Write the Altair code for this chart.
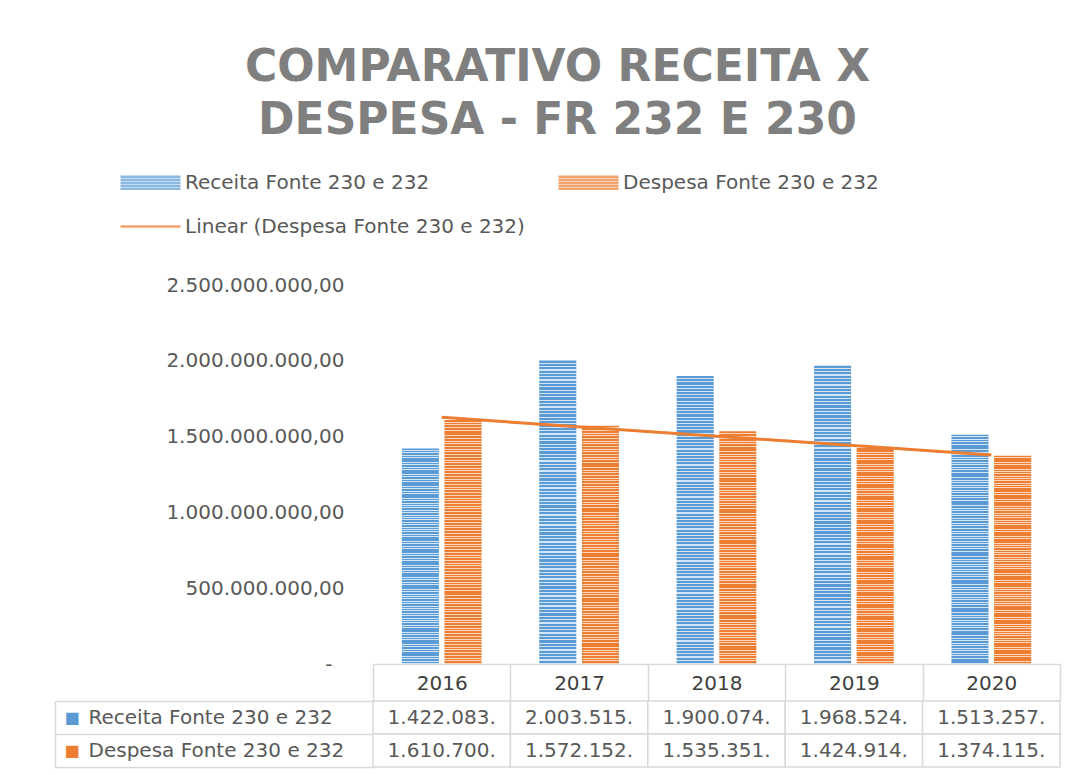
import altair as alt
import pandas as pd

# ---------------- data ----------------
anos = [2016, 2017, 2018, 2019, 2020]
receita = [1422083000, 2003515000, 1900074000, 1968524000, 1513257000]
despesa = [1610700000, 1572152000, 1535351000, 1424914000, 1374115000]

serie_receita = "Receita Fonte  230 e 232"
serie_despesa = "Despesa Fonte 230 e 232"
serie_linear = "Linear (Despesa Fonte 230 e 232)"
titulo = ["COMPARATIVO RECEITA X", "DESPESA - FR 232 E 230"]
y_ticks = [0, 500000000, 1000000000, 1500000000, 2000000000, 2500000000]

# ---------------- styles ----------------
AZUL = "#5b9bd5"
AZUL_CLARO = "#d3e4f6"
LARANJA = "#ed7d31"
LARANJA_CLARO = "#fbd6bd"
CINZA_TXT = "#595959"
CINZA_BORDA = "#d9d9d9"
FONTE = "DejaVu Sans"
FS = 20


def listras(escuro, claro, n=90, frac=0.64):
    stops = []
    for i in range(n):
        a = i / n
        b = (i + frac) / n
        c = (i + 1) / n
        stops += [
            {"offset": a, "color": escuro},
            {"offset": b, "color": escuro},
            {"offset": b, "color": claro},
            {"offset": c, "color": claro},
        ]
    return {"gradient": "linear", "x1": 0, "y1": 0, "x2": 0, "y2": 1, "stops": stops}


def texto_tabela(v):
    s = f"{v:,.2f}".replace(",", "#").replace(".", ",").replace("#", ".")
    return s[:10]


linhas = []
for a, r, d in zip(anos, receita, despesa):
    linhas.append({"ano": a, "serie": serie_receita, "valor": r, "texto": texto_tabela(r)})
    linhas.append({"ano": a, "serie": serie_despesa, "valor": d, "texto": texto_tabela(d)})
df = pd.DataFrame(linhas)

W = 687
H = 394
LABEL_COL = 318
ROW_H = 33

x_main = alt.X(
    "ano:O",
    scale=alt.Scale(paddingInner=0, paddingOuter=0),
    axis=alt.Axis(
        title=None, labelAngle=0, domain=True, domainColor=CINZA_BORDA, domainWidth=1.5,
        ticks=True, tickSize=36, tickBand="extent", tickColor=CINZA_BORDA, tickWidth=1.5,
        labelPadding=-17, labelBaseline="middle", labelFont=FONTE, labelFontSize=FS,
        labelColor="#404040",
    ),
)

y_main = alt.Y(
    "valor:Q",
    scale=alt.Scale(domain=[0, 2500000000]),
    axis=alt.Axis(
        title=None, values=y_ticks, domain=False, ticks=False, grid=False,
        labelPadding={"condition": {"test": "datum.value == 0", "value": 41}, "value": 29},
        labelFont=FONTE, labelFontSize=FS, labelColor=CINZA_TXT,
        labelExpr=(
            "datum.value == 0 ? '-' : "
            "replace(replace(replace(format(datum.value, ',.2f'), regexp(',', 'g'), '#'), "
            "regexp('[.]', 'g'), ','), regexp('#', 'g'), '.')"
        ),
    ),
)

barras = alt.Chart(df).mark_bar().encode(
    x=x_main,
    xOffset=alt.XOffset(
        "serie:N",
        scale=alt.Scale(domain=[serie_receita, serie_despesa], paddingInner=0.13, paddingOuter=0.676),
    ),
    y=y_main,
    fill=alt.condition(
        alt.datum.serie == serie_receita,
        alt.value(listras(AZUL, AZUL_CLARO)),
        alt.value(listras(LARANJA, LARANJA_CLARO)),
    ),
)

tendencia = (
    alt.Chart(df)
    .transform_filter(alt.datum.serie == serie_despesa)
    .transform_regression("ano", "valor")
    .mark_line(color=LARANJA, strokeWidth=3)
    .encode(x=alt.X("ano:O"), y=alt.Y("valor:Q"))
)

dominio_leg = [serie_receita, serie_despesa, serie_linear]
simb_barra = "M-3,-0.6H3M-3,-0.3H3M-3,0H3M-3,0.3H3M-3,0.6H3"
simb_linha = "M-3,0H3"
leg = alt.Legend(
    title=None, orient="none", legendX=-234, legendY=-99, columns=2, direction="horizontal",
    columnPadding=28, rowPadding=21, symbolSize=400, symbolStrokeWidth=2.5, labelOffset=23,
    labelFont=FONTE, labelFontSize=FS, labelColor=CINZA_TXT, labelLimit=600,
)
legenda = (
    alt.Chart(df)
    .transform_filter("false")
    .mark_point(filled=False)
    .encode(
        color=alt.Color("serie:N", scale=alt.Scale(domain=dominio_leg, range=[AZUL, LARANJA, LARANJA]), legend=leg),
        shape=alt.Shape("serie:N", scale=alt.Scale(domain=dominio_leg, range=[simb_barra, simb_barra, simb_linha]), legend=leg),
    )
)

principal = alt.layer(barras, tendencia, legenda).properties(width=W, height=H)

# ---------------- table ----------------
y_tab_dom = [serie_receita, serie_despesa]
celulas = alt.Chart(df).mark_rect(fill="white", stroke=CINZA_BORDA, strokeWidth=1.5).encode(
    x=alt.X("ano:O", axis=None, scale=alt.Scale(paddingInner=0, paddingOuter=0)),
    y=alt.Y(
        "serie:N",
        scale=alt.Scale(domain=y_tab_dom, paddingInner=0, paddingOuter=0),
        axis=alt.Axis(
            orient="right", offset=-(W + LABEL_COL), title=None,
            domain=True, domainColor=CINZA_BORDA, domainWidth=1.5,
            ticks=True, tickSize=LABEL_COL, tickBand="extent", tickColor=CINZA_BORDA, tickWidth=1.5,
            labelPadding=-285, labelAlign="left", labelBaseline="middle",
            labelFont=FONTE, labelFontSize=FS, labelColor=CINZA_TXT, labelLimit=400,
        ),
    ),
)
textos = alt.Chart(df).mark_text(font=FONTE, fontSize=FS, color=CINZA_TXT).encode(
    x=alt.X("ano:O", axis=None),
    y=alt.Y(
        "serie:N",
        axis=alt.Axis(
            orient="left", title=None, domain=False, ticks=False, labelExpr="'■'",
            labelPadding=294, labelFontSize=16, labelBaseline="middle",
            labelColor={"condition": {"test": f"datum.value === '{serie_receita}'", "value": AZUL}, "value": LARANJA},
        ),
    ),
    text="texto:N",
)
tabela = alt.layer(celulas, textos).resolve_axis(y="independent").properties(width=W, height=2 * ROW_H)

chart = (
    alt.vconcat(principal, tabela, spacing=-12)
    .properties(
        title=alt.Title(
            titulo, font=FONTE, fontSize=44, fontWeight="bold", color="#7f7f7f",
            lineHeight=53, anchor="middle", offset=28,
        ),
        padding={"left": 46, "top": 38, "right": 5, "bottom": 1},
    )
    .configure(font=FONTE)
    .configure_view(stroke="transparent", strokeWidth=0)
)

chart.save("out.html", embed_options={"renderer": "svg", "actions": False})
